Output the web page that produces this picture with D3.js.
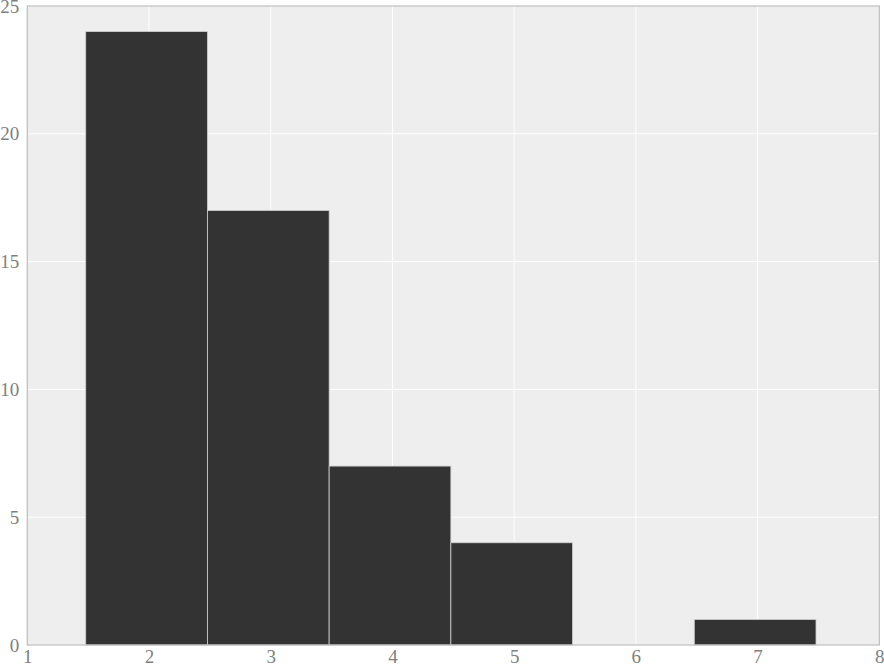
<!DOCTYPE html>
<html>
<head>
<meta charset="utf-8">
<script src="https://cdn.jsdelivr.net/npm/d3@7"></script>
<style>
  body { margin: 0; background: #fff; }
  .tick text { font-family: "Liberation Serif", "Times New Roman", serif; font-size: 19px; fill: #808080; }
</style>
</head>
<body>
<div id="chart"></div>
<script>
var binStarts = [1.48, 2.48, 3.48, 4.48, 5.48, 6.48];
var binWidth = 1;
var counts = [24, 17, 7, 4, 0, 1];
var xTicks = [1, 2, 3, 4, 5, 6, 7, 8];
var yTicks = [0, 5, 10, 15, 20, 25];

var width = 884, height = 667;
var margin = {top: 6, right: 4.7, bottom: 22, left: 27.3};
var graphWidth = width - margin.left - margin.right;
var graphHeight = height - margin.top - margin.bottom;

var svg = d3.select("#chart")
  .append("svg")
  .attr("width", width)
  .attr("height", height)
  .append("g")
  .attr("transform", "translate(" + margin.left + "," + margin.top + ")");

var x = d3.scaleLinear().domain([1, 8]).range([0, graphWidth]);
var y = d3.scaleLinear().domain([0, 25]).range([graphHeight, 0]);

// background
svg.append("rect")
  .attr("width", graphWidth)
  .attr("height", graphHeight)
  .style("fill", "#eeeeee");

// grid
svg.append("g")
  .selectAll("line.vgrid")
  .data(xTicks)
  .enter()
  .append("line")
  .attr("x1", function(d) { return x(d); })
  .attr("x2", function(d) { return x(d); })
  .attr("y1", 0)
  .attr("y2", graphHeight)
  .style("stroke", "#fff")
  .style("stroke-width", 1);

svg.append("g")
  .selectAll("line.hgrid")
  .data(yTicks)
  .enter()
  .append("line")
  .attr("x1", 0)
  .attr("x2", graphWidth)
  .attr("y1", function(d) { return y(d); })
  .attr("y2", function(d) { return y(d); })
  .style("stroke", "#fff")
  .style("stroke-width", 1);

// bars
svg.selectAll(".bar")
  .data(counts)
  .enter()
  .append("rect")
  .attr("class", "bar")
  .attr("x", function(d, i) { return x(binStarts[i]); })
  .attr("width", function(d, i) { return x(binStarts[i] + binWidth) - x(binStarts[i]); })
  .attr("y", function(d) { return y(d); })
  .attr("height", function(d) { return graphHeight - y(d); })
  .style("fill", "#333333")
  .style("stroke", function(d) { return d > 0 ? "#d0d0d0" : "none"; })
  .style("stroke-width", 0.8);

// frame
svg.append("rect")
  .attr("width", graphWidth)
  .attr("height", graphHeight)
  .style("fill", "none")
  .style("stroke", "#bcbcbc")
  .style("stroke-width", 1.2);

// axes
var xAxis = svg.append("g")
  .attr("class", "x axis")
  .attr("transform", "translate(0," + graphHeight + ")")
  .call(d3.axisBottom(x).tickValues(xTicks).tickSize(0).tickPadding(5).tickFormat(d3.format("d")));
xAxis.select(".domain").remove();

var yAxis = svg.append("g")
  .attr("class", "y axis")
  .call(d3.axisLeft(y).tickValues(yTicks).tickSize(0).tickPadding(8).tickFormat(d3.format("d")));
yAxis.select(".domain").remove();
</script>
</body>
</html>
